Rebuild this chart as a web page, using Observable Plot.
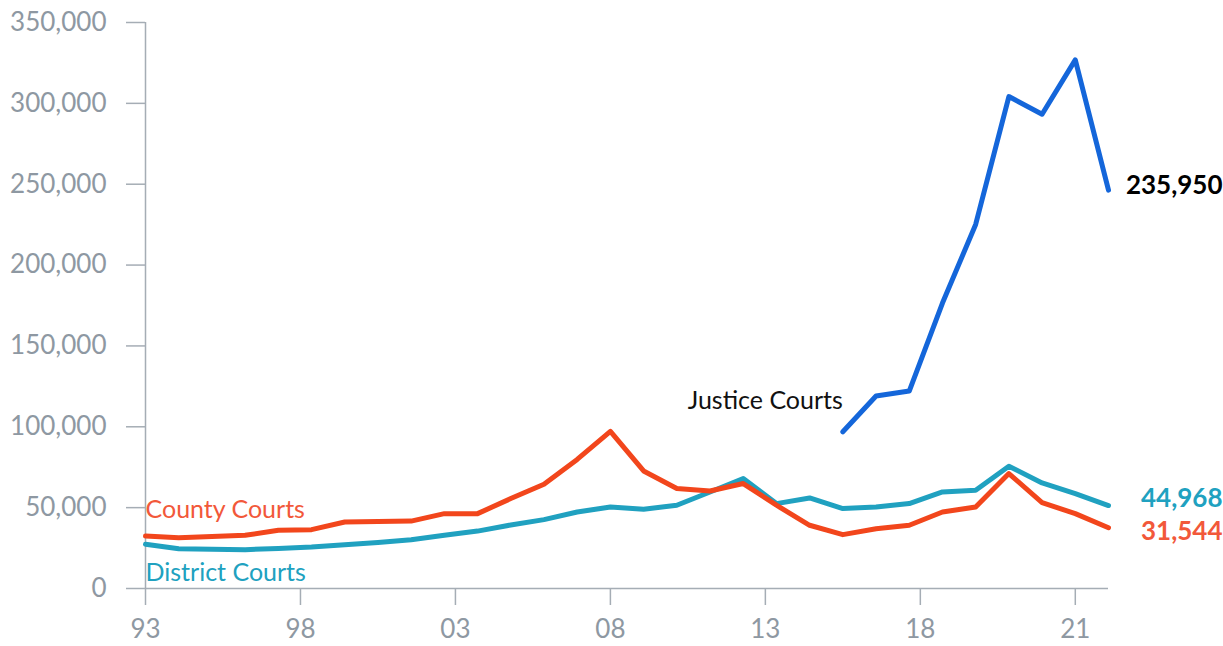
<!DOCTYPE html>
<html><head><meta charset="utf-8">
<script src="https://cdn.jsdelivr.net/npm/d3@7"></script>
<script src="https://cdn.jsdelivr.net/npm/@observablehq/plot@0.6"></script>
<style>body{margin:0;background:#fff}svg{display:block}</style>
</head><body><div id="chart"></div>
<script>
// Data (30 annual points, index 0..29)
const county = [32400,31400,32200,32900,36000,36400,41100,41500,41700,46300,46300,55600,64500,79800,97200,
                72700,61800,60300,64900,51500,39100,33300,37000,39100,47300,50400,71100,53100,46300,37600];
const district = [27300,24600,24200,24000,24800,25600,27100,28500,30200,32900,35500,39300,42600,47300,50400,
                  49000,51500,59700,68000,52500,56000,49400,50400,52500,59700,60800,75600,65300,58700,51300];
const justiceStart = 21;
const justice = [96900,119000,122100,176500,225100,304200,293300,326900,246300];
const xTickLabels = ["93","98","03","08","13","18","21"];
const yTicks = [0,50000,100000,150000,200000,250000,300000,350000];
const seriesNames = ["Justice Courts","County Courts","District Courts"];
const endLabels = ["235,950","44,968","31,544"];
const colors = {justice:"#1466da", county:"#f2461c", district:"#20a1c0"};
const labelColors = {county:"#f2583a", district:"#20a1c0"};

const countyData = county.map((v,i)=>({i, v}));
const districtData = district.map((v,i)=>({i, v}));
const justiceData = justice.map((v,k)=>({i: justiceStart+k, v}));
const last = county.length - 1;
const tickPos = xTickLabels.map((_,k)=> k*(last-1)/(xTickLabels.length-1));
const axisColor = "#a5adb5";
const textColor = "#8e98a2";

const chart = Plot.plot({
  width: 1223, height: 646,
  marginLeft: 145, marginRight: 115, marginTop: 22, marginBottom: 58,
  style: {fontFamily: "Lato", fontSize: "26px", background: "#fff"},
  x: {domain: [0, last], label: null},
  y: {domain: [0, 350000], label: null},
  marks: [
    Plot.ruleX([0], {y1: 0, y2: 350000, stroke: axisColor, strokeWidth: 1.5}),
    Plot.ruleY([0], {x1: 0, x2: last, stroke: axisColor, strokeWidth: 1.5}),
    Plot.axisY(yTicks, {label: null, tickSize: 19, tickPadding: 20, tickFormat: d3.format(","), stroke: axisColor, fill: textColor, strokeWidth: 1.5, fontSize: 26}),
    Plot.axisX(tickPos, {label: null, tickSize: 17, tickPadding: 14, tickFormat: (d)=> xTickLabels[tickPos.indexOf(d)], stroke: axisColor, fill: textColor, strokeWidth: 1.5, fontSize: 26}),
    Plot.lineY(districtData, {x: "i", y: "v", stroke: colors.district, strokeWidth: 5}),
    Plot.lineY(countyData, {x: "i", y: "v", stroke: colors.county, strokeWidth: 5}),
    Plot.lineY(justiceData, {x: "i", y: "v", stroke: colors.justice, strokeWidth: 5}),
    Plot.text([seriesNames[0]], {x: justiceStart, y: 116000, text: d=>d, textAnchor: "end", fill: "#111", fontSize: 25}),
    Plot.text([seriesNames[1]], {x: 0, y: 48500, text: d=>d, textAnchor: "start", fill: labelColors.county, fontSize: 25}),
    Plot.text([seriesNames[2]], {x: 0, y: 9500, text: d=>d, textAnchor: "start", fill: labelColors.district, fontSize: 25}),
    Plot.text([endLabels[0]], {x: last, y: justice[justice.length-1], dy: -5, dx: 114, text: d=>d, textAnchor: "end", fill: "#000", fontWeight: "bold", fontSize: 26}),
    Plot.text([endLabels[1]], {x: last, y: district[last], dy: -7, dx: 114, text: d=>d, textAnchor: "end", fill: labelColors.district, fontWeight: "bold", fontSize: 26}),
    Plot.text([endLabels[2]], {x: last, y: county[last], dy: 4, dx: 114, text: d=>d, textAnchor: "end", fill: labelColors.county, fontWeight: "bold", fontSize: 26})
  ]
});
document.getElementById("chart").appendChild(chart);
</script></body></html>
